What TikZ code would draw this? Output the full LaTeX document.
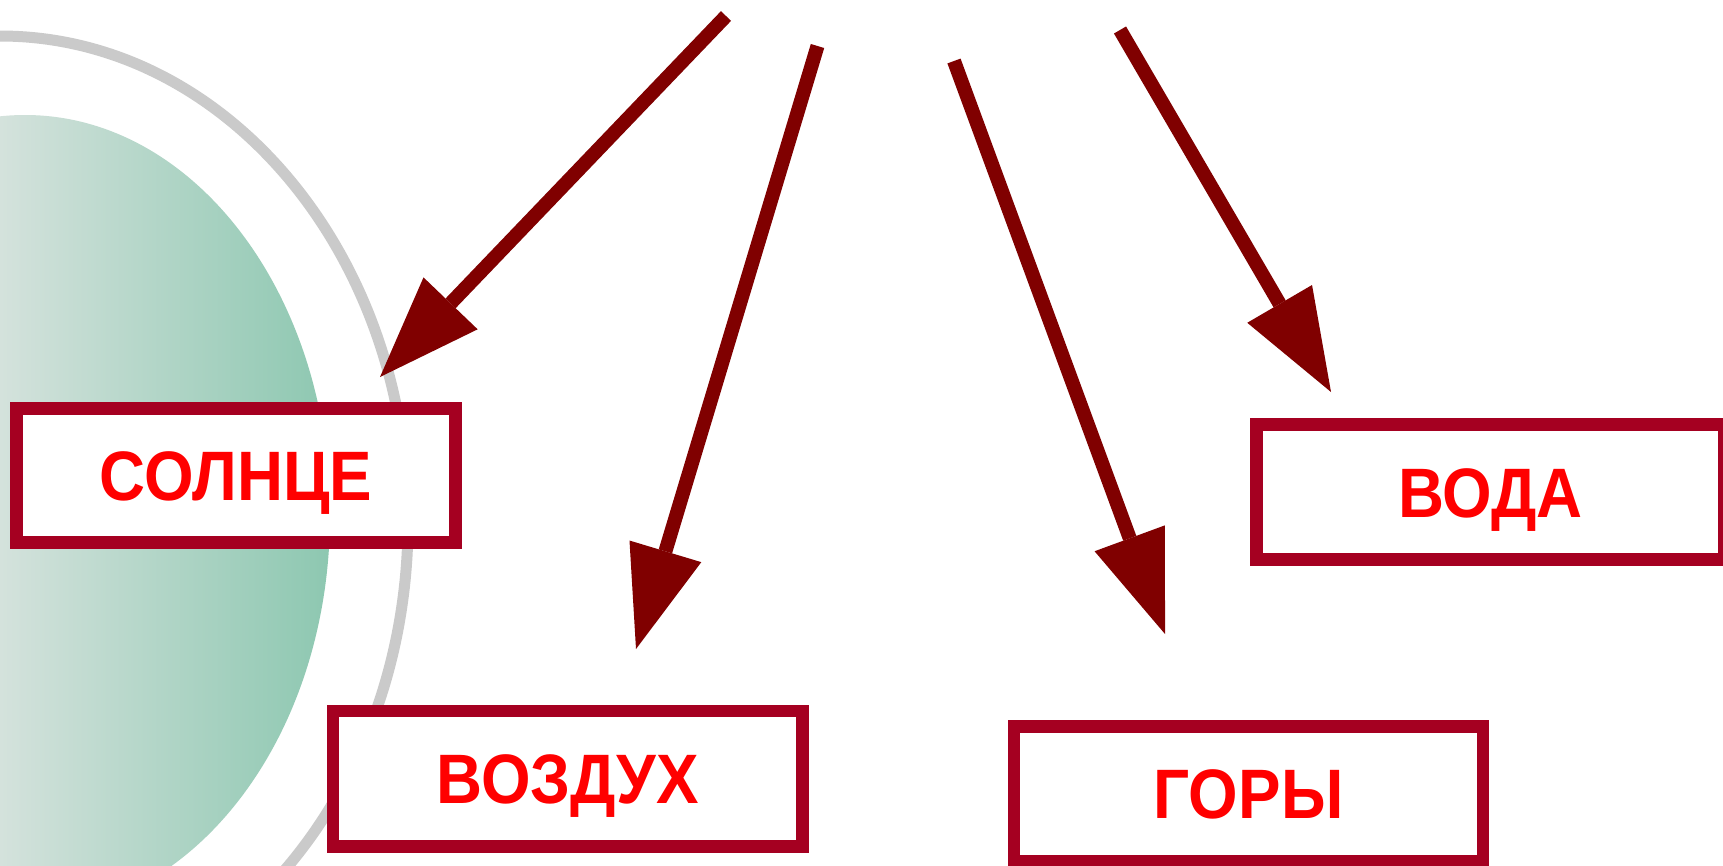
\documentclass[tikz,border=0pt]{standalone}
\usepackage{fontspec}
\setmainfont{Liberation Sans}
\usetikzlibrary{arrows.meta}
\definecolor{boxc}{HTML}{A50021}
\definecolor{arrc}{HTML}{800000}
\definecolor{txtc}{HTML}{FF0000}
\definecolor{ringc}{HTML}{CACACA}
\definecolor{diskl}{HTML}{D4E2DC}
\definecolor{diskr}{HTML}{8CC7B0}
\newcommand{\lbl}[1]{\scalebox{0.91}[1]{#1}}
\tikzset{
  labelbox/.style={draw=boxc, line width=12.5pt, fill=white, inner sep=0pt,
    text=txtc, font=\fontsize{70pt}{70pt}\selectfont\bfseries,
    text height=50pt, text depth=0pt},
  bigarrow/.style={draw=arrc, line width=14pt, line cap=butt,
    -{Triangle[length=102pt, width=75pt, line width=0pt]}}
}
\begin{document}
\begin{tikzpicture}[x=1pt, y=-1pt]
\useasboundingbox (0,0) rectangle (1723,865);
\fill[white] (0,0) rectangle (1723,865);
\clip (0,0) rectangle (1723,865);
% left disk with horizontal gradient
\begin{scope}
  \clip (25,515) ellipse [x radius=305, y radius=400];
  \shade[left color=diskl, right color=diskr] (0,0) rectangle (335,865);
\end{scope}
% grey ring
\draw[ringc, line width=11pt] (0,522) ellipse [x radius=408, y radius=486];
% boxes
\node[labelbox, minimum width=439pt, minimum height=134pt] (solnce) at (236,475.5) {\lbl{СОЛНЦЕ}};
\node[labelbox, minimum width=468pt, minimum height=135pt] (voda) at (1490.5,492) {\lbl{ВОДА}};
\node[labelbox, minimum width=469.5pt, minimum height=135.5pt] (vozduh) at (567.75,778.75) {\lbl{ВОЗДУХ}};
\node[labelbox, minimum width=469pt, minimum height=134.5pt] (gory) at (1248.5,793.75) {\lbl{ГОРЫ}};
% arrows
\coordinate (s1) at (726,16);    \coordinate (t1) at (380,377);
\coordinate (s2) at (817.5,46);  \coordinate (t2) at (636,649);
\coordinate (s3) at (954,61);    \coordinate (t3) at (1165,634);
\coordinate (s4) at (1120,30);   \coordinate (t4) at (1331,392);
\draw[bigarrow] (s1) -- (t1);
\draw[bigarrow] (s2) -- (t2);
\draw[bigarrow] (s3) -- (t3);
\draw[bigarrow] (s4) -- (t4);
\end{tikzpicture}
\end{document}
